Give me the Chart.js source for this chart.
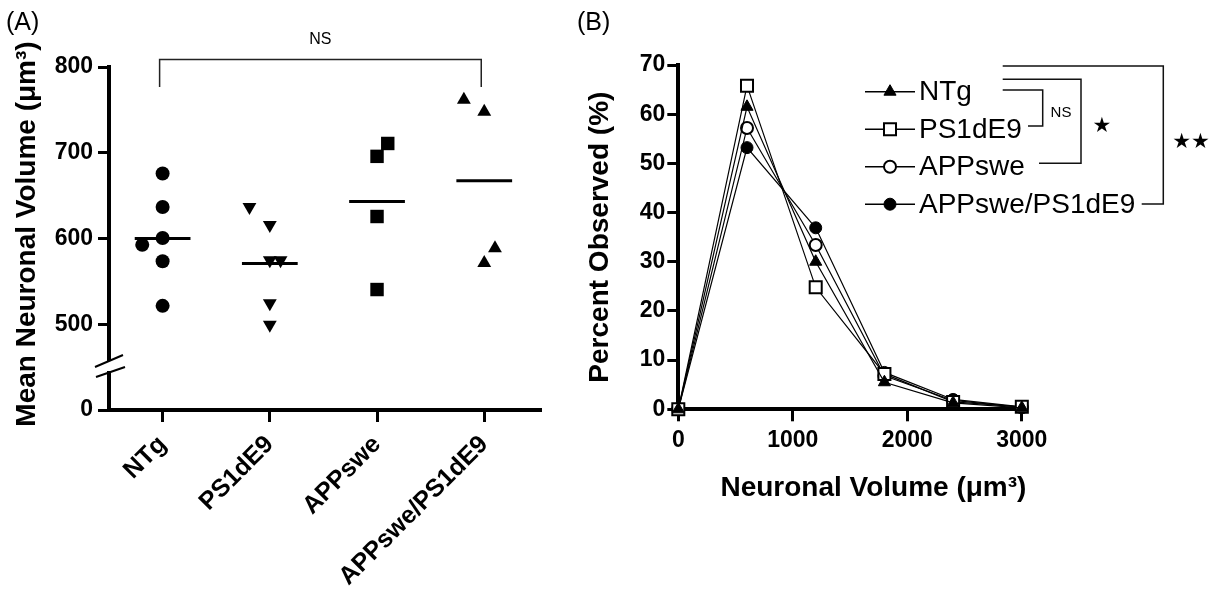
<!DOCTYPE html>
<html>
<head>
<meta charset="utf-8">
<script src="https://cdn.jsdelivr.net/npm/chart.js@4.4.0/dist/chart.umd.min.js"></script>
<style>
html,body{margin:0;padding:0;background:#fff;}
#wrap{position:relative;width:1216px;height:599px;overflow:hidden;background:#fff;}
canvas{position:absolute;top:0;}
#ca{left:0;}
#cb{left:580px;}
.lab{position:absolute;font-family:'Liberation Sans',Arial,sans-serif;font-size:25px;color:#000;line-height:1;}
</style>
</head>
<body>
<div id="wrap">
<canvas id="ca" width="580" height="599"></canvas>
<canvas id="cb" width="636" height="599"></canvas>
<div class="lab" style="left:6px;top:9px">(A)</div>
<div class="lab" style="left:577px;top:9px">(B)</div>
</div>
<script>
// ---------- Data: panel A (mean neuronal volume, µm³) ----------
const categories = ['NTg', 'PS1dE9', 'APPswe', 'APPswe/PS1dE9'];
const ntgVolume   = [676, 637, 601, 574, 522, 593];
const ntgSpread   = [0, 0, 0, 0, 0, -0.19];
const ps1Volume   = [637, 616, 575, 575, 525, 500];
const ps1Spread   = [-0.19, 0, 0, 0.1, 0, 0];
const appVolume   = [711, 696, 626, 541];
const appSpread   = [0.1, 0, 0, 0];
const appPsVolume = [762, 748, 589, 572];
const appPsSpread = [-0.19, 0, 0.1, 0];
const yTicksA     = [500, 600, 700, 800];

// ---------- Data: panel B (percent observed per volume bin) ----------
const volumeBins   = [0, 600, 1200, 1800, 2400, 3000];
const ntgPercent   = [0, 61.5, 30.0, 5.5, 1.3, 0.3];
const ps1Percent   = [0, 65.8, 24.8, 7.2, 1.5, 0.5];
const appPercent   = [0, 57.2, 33.4, 6.8, 1.8, 0.4];
const appPsPercent = [0, 53.2, 36.9, 7.5, 2.0, 0.5];
const xTicksB      = [0, 1000, 2000, 3000];

const FONT = "'Liberation Sans', Arial, Helvetica, sans-serif";
const BLACK = '#000';

// ---------- Panel A ----------
const markerA = [
  {style: 'circle',   r: 7,   rot: 0},
  {style: 'triangle', r: 8,   rot: 180},
  {style: 'rect',     r: 9.5, rot: 0},
  {style: 'triangle', r: 8,   rot: 0}
];
const groupsA = [[ntgVolume, ntgSpread], [ps1Volume, ps1Spread], [appVolume, appSpread], [appPsVolume, appPsSpread]];
const dsA = [];
groupsA.forEach(([vals, spread], i) => {
  const m = markerA[i];
  dsA.push({
    type: 'scatter', yAxisID: 'y',
    data: vals.map((v, k) => ({x: i + 1 + spread[k], y: v})),
    pointStyle: m.style, pointRadius: m.r, pointRotation: m.rot,
    backgroundColor: BLACK, borderColor: BLACK, borderWidth: 0,
    showLine: false, clip: false
  });
  const mean = vals.reduce((a, b) => a + b, 0) / vals.length;
  dsA.push({
    type: 'line', yAxisID: 'y',
    data: [{x: i + 1 - 0.26, y: mean}, {x: i + 1 + 0.26, y: mean}],
    borderColor: BLACK, borderWidth: 3, pointRadius: 0, fill: false, clip: false
  });
});

const gridTicks = (len) => ({display: true, drawOnChartArea: false, drawTicks: true, tickLength: len, lineWidth: 3, color: BLACK});
const axisBorder = {display: true, width: 4, color: BLACK};

const annotateA = {
  id: 'annotateA',
  afterDraw(chart) {
    const ctx = chart.ctx;
    const xs = chart.scales.x, yu = chart.scales.y;
    ctx.save();
    // axis break
    const ax = yu.right, by = yu.bottom;
    ctx.fillStyle = '#fff';
    ctx.fillRect(ax - 4, by - 5, 8, 10);
    ctx.strokeStyle = BLACK; ctx.lineWidth = 2;
    ctx.beginPath();
    ctx.moveTo(ax - 14, by + 1); ctx.lineTo(ax + 14, by - 11);
    ctx.moveTo(ax - 13, by + 11); ctx.lineTo(ax + 16, by + 1);
    ctx.stroke();
    // significance bracket
    const x1 = xs.getPixelForValue(1) - 3, x4 = xs.getPixelForValue(4) - 3;
    ctx.strokeStyle = '#222'; ctx.lineWidth = 1.5;
    ctx.beginPath();
    ctx.moveTo(x1, 87); ctx.lineTo(x1, 59.5); ctx.lineTo(x4, 59.5); ctx.lineTo(x4, 87);
    ctx.stroke();
    ctx.fillStyle = BLACK;
    ctx.font = '16px ' + FONT;
    ctx.textAlign = 'center'; ctx.textBaseline = 'middle';
    ctx.fillText('NS', (x1 + x4) / 2, 40);
    // y-axis title
    ctx.translate(27, 234);
    ctx.rotate(-Math.PI / 2);
    ctx.font = 'bold 28px ' + FONT;
    ctx.fillText('Mean Neuronal Volume (\u03bcm\u00b3)', 0, 0);
    ctx.restore();
  }
};

new Chart(document.getElementById('ca'), {
  type: 'scatter',
  data: {datasets: dsA},
  options: {
    responsive: false, animation: false, events: [],
    layout: {padding: {top: 67, right: 40, left: 0, bottom: 0}},
    plugins: {legend: {display: false}, tooltip: {enabled: false}},
    scales: {
      x: {
        type: 'linear', position: 'bottom', min: 0.5, max: 4.52,
        afterBuildTicks: s => { s.ticks = categories.map((c, i) => ({value: i + 1})); },
        afterFit: s => { s.height = 189; },
        grid: gridTicks(12), border: axisBorder,
        ticks: {autoSkip: false, minRotation: 45, maxRotation: 45, padding: 8, color: BLACK,
                font: {family: FONT, size: 25, weight: 'bold'},
                callback: v => categories[Math.round(v) - 1]}
      },
      y: {
        type: 'linear', position: 'left', stack: 'ya', stackWeight: 299, weight: 1,
        min: 452, max: 800,
        afterBuildTicks: s => { s.ticks = yTicksA.map(v => ({value: v})); },
        afterFit: s => { s.width = 109; },
        grid: gridTicks(11), border: axisBorder,
        ticks: {padding: 5, color: BLACK, font: {family: FONT, size: 23, weight: 'bold'}}
      },
      y0: {
        type: 'linear', position: 'left', stack: 'ya', stackWeight: 44, weight: 0,
        min: 0, max: 50,
        afterBuildTicks: s => { s.ticks = [{value: 0}]; },
        afterFit: s => { s.width = 109; },
        grid: gridTicks(11), border: axisBorder,
        ticks: {padding: 5, color: BLACK, font: {family: FONT, size: 23, weight: 'bold'}}
      }
    }
  },
  plugins: [annotateA]
});

// ---------- Panel B ----------
const seriesB = [ntgPercent, ps1Percent, appPercent, appPsPercent];
const markerB = [
  {style: 'triangle', r: 7,   fill: BLACK, bw: 1},
  {style: 'rect',     r: 8.5, fill: '#fff', bw: 2},
  {style: 'circle',   r: 6,   fill: '#fff', bw: 2},
  {style: 'circle',   r: 6,   fill: BLACK, bw: 1}
];
const dsB = seriesB.map((vals, i) => ({
  label: categories[i],
  data: volumeBins.map((x, k) => ({x: x, y: vals[k]})),
  borderColor: BLACK, borderWidth: 1.2, tension: 0, fill: false,
  pointStyle: markerB[i].style, pointRadius: markerB[i].r,
  pointBackgroundColor: markerB[i].fill, pointBorderColor: BLACK, pointBorderWidth: markerB[i].bw,
  clip: false
}));

const annotateB = {
  id: 'annotateB',
  afterDraw(chart) {
    const ctx = chart.ctx;
    ctx.save();
    // legend
    const rowY0 = 91.7, rowStep = 37.5;
    chart.data.datasets.forEach((ds, i) => {
      const y = rowY0 + i * rowStep;
      ctx.strokeStyle = BLACK; ctx.lineWidth = 1.5;
      ctx.beginPath(); ctx.moveTo(285, y); ctx.lineTo(335, y); ctx.stroke();
      ctx.fillStyle = markerB[i].fill; ctx.strokeStyle = BLACK; ctx.lineWidth = markerB[i].bw;
      Chart.helpers.drawPoint(ctx, {pointStyle: markerB[i].style, radius: markerB[i].r, rotation: 0, borderWidth: markerB[i].bw}, 310, y);
      ctx.fillStyle = BLACK;
      ctx.font = '28px ' + FONT;
      ctx.textAlign = 'left'; ctx.textBaseline = 'middle';
      ctx.fillText(ds.label, 339, y + 1);
    });
    // comparison brackets
    ctx.strokeStyle = '#111'; ctx.lineWidth = 1.5;
    ctx.beginPath();
    ctx.moveTo(422.7, 66); ctx.lineTo(583.3, 66); ctx.lineTo(583.3, 204); ctx.lineTo(561.7, 204);
    ctx.moveTo(422.7, 79.3); ctx.lineTo(501, 79.3); ctx.lineTo(501, 163.3); ctx.lineTo(459, 163.3);
    ctx.moveTo(422.7, 90); ctx.lineTo(462.7, 90); ctx.lineTo(462.7, 126); ctx.lineTo(448, 126);
    ctx.stroke();
    ctx.fillStyle = BLACK;
    ctx.textAlign = 'center'; ctx.textBaseline = 'middle';
    ctx.font = '15px ' + FONT;
    ctx.fillText('NS', 481, 113);
    ctx.font = '21px DejaVu Sans';
    ctx.fillText('\u2605', 522, 127);
    ctx.fillText('\u2605\u2605', 611, 143);
    ctx.restore();
  }
};

new Chart(document.getElementById('cb'), {
  type: 'line',
  data: {datasets: dsB},
  options: {
    responsive: false, animation: false, events: [],
    layout: {padding: {top: 65, right: 189.6, left: 0, bottom: 0}},
    plugins: {legend: {display: false}, tooltip: {enabled: false}},
    scales: {
      x: {
        type: 'linear', position: 'bottom', min: 0, max: 3040,
        afterBuildTicks: s => { s.ticks = xTicksB.map(v => ({value: v})); },
        afterFit: s => { s.height = 189.7; },
        grid: gridTicks(12), border: axisBorder,
        ticks: {padding: 6, color: BLACK, font: {family: FONT, size: 23, weight: 'bold'}, maxRotation: 0,
                callback: v => String(v)},
        title: {display: true, text: 'Neuronal Volume (\u03bcm\u00b3)', align: 'end', color: BLACK,
                font: {family: FONT, size: 28, weight: 'bold', lineHeight: 1.2}, padding: {top: 0, bottom: 94}}
      },
      y: {
        type: 'linear', position: 'left', min: 0, max: 70,
        ticks: {stepSize: 10, padding: 2, color: BLACK, font: {family: FONT, size: 23, weight: 'bold'}},
        afterFit: s => { s.width = 98.3; },
        grid: gridTicks(11), border: axisBorder,
        title: {display: true, text: 'Percent Observed (%)', color: BLACK,
                font: {family: FONT, size: 28, weight: 'bold', lineHeight: 1.2}, padding: {top: 3, bottom: 0}}
      }
    }
  },
  plugins: [annotateB]
});
</script>
</body>
</html>
